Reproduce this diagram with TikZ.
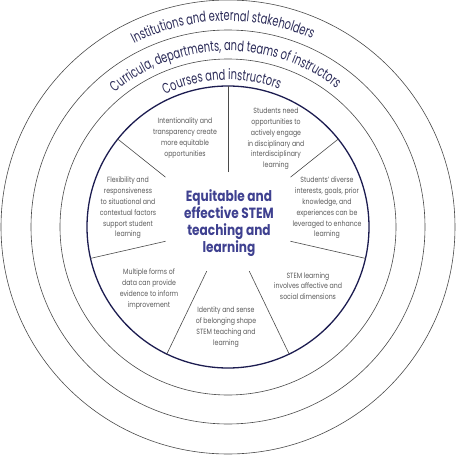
\documentclass[tikz,border=0pt]{standalone}
\usepackage{fontspec}
\setmainfont{Poppins}[FakeStretch=0.82]
\newfontfamily\ringfont{Poppins}[FakeStretch=0.68]
\usetikzlibrary{decorations.text}

\definecolor{ringline}{HTML}{4A4A4A}
\definecolor{navy}{HTML}{1C1C50}
\definecolor{labelink}{HTML}{2B2B58}
\definecolor{bodyink}{HTML}{5A5A5A}
\definecolor{heroink}{HTML}{3F4190}

\tikzset{
  ring/.style={draw=ringline, line width=0.6pt},
  corering/.style={draw=navy, line width=1.3pt},
  spoke/.style={draw=ringline, line width=0.6pt},
  blurb/.style={align=center, inner sep=0pt, text=bodyink,
    font=\fontsize{7.6}{10.8}\selectfont},
  hero/.style={align=center, inner sep=0pt, text=heroink,
    font=\fontsize{14.8}{17}\selectfont\bfseries},
  arclabel/.style={decorate, decoration={text along path, text align=center,
    text={|\ringfont\fontsize{14.5}{14.5}\selectfont\color{labelink}|#1}}}
}

\begin{document}
\begin{tikzpicture}[x=1pt, y=1pt]
\useasboundingbox (-228,-229) rectangle (228,227);
\coordinate (O) at (0,0);

% nested rings
\draw[ring] (O) circle[radius=227];
\draw[ring] (O) circle[radius=197];
\draw[ring] (O) circle[radius=168];
\draw[corering] (O) circle[radius=141];

% ring titles along the arcs, centred a little left of the top
\path[arclabel={Institutions and external stakeholders}]
  (161.5:206) arc[start angle=161.5, end angle=21.5, radius=206];
\path[arclabel={Curricula, departments, and teams of instructors}]
  (171:176) arc[start angle=171, end angle=11, radius=176];
\path[arclabel={Courses and instructors}]
  (162.5:147) arc[start angle=162.5, end angle=22.5, radius=147];

% spokes separating the seven principles
\coordinate (a1) at (90:55);       \coordinate (b1) at (90:141);
\coordinate (a2) at (38.57:80);    \coordinate (b2) at (38.57:141);
\coordinate (a3) at (-12.86:64);   \coordinate (b3) at (-12.86:141);
\coordinate (a4) at (-64.29:49);   \coordinate (b4) at (-64.29:141);
\coordinate (a5) at (-115.71:49);  \coordinate (b5) at (-115.71:141);
\coordinate (a6) at (-167.14:64);  \coordinate (b6) at (-167.14:141);
\coordinate (a7) at (141.43:80);   \coordinate (b7) at (141.43:141);
\foreach \k in {1,...,7} \draw[spoke] (a\k) -- (b\k);

% central goal
\node[hero] (core) at (1,4) {Equitable and\\effective STEM\\teaching and\\learning};

% principles
\node[blurb] (p1) at (-43,89) {Intentionality and\\transparency create\\more equitable\\opportunities};
\node[blurb] (p2) at (48,88) {Students need\\opportunities to\\actively engage\\in disciplinary and\\interdisciplinary\\learning};
\node[blurb] (p3) at (99,19) {Students’ diverse\\interests, goals, prior\\knowledge, and\\experiences can be\\leveraged to enhance\\learning};
\node[blurb] (p4) at (80,-59) {STEM learning\\involves affective and\\social dimensions};
\node[blurb] (p5) at (-2,-100) {Identity and sense\\of belonging shape\\STEM teaching and\\learning};
\node[blurb] (p6) at (-79,-62) {Multiple forms of\\data can provide\\evidence to inform\\improvement};
\node[blurb] (p7) at (-100,19) {Flexibility and\\responsiveness\\to situational and\\contextual factors\\support student\\learning};
\end{tikzpicture}
\end{document}
